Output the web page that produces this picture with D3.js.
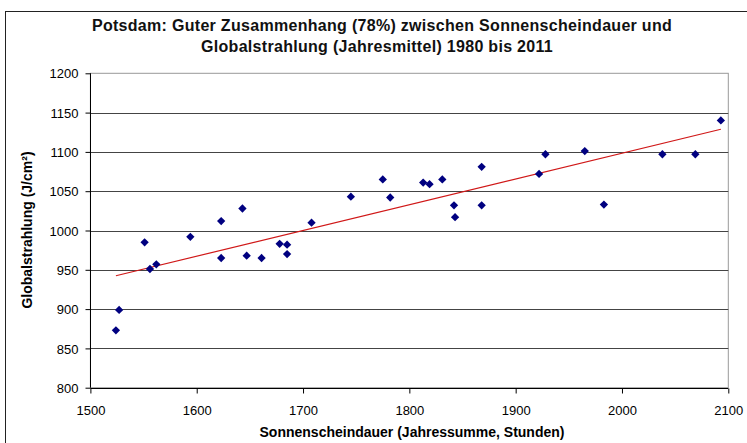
<!DOCTYPE html>
<html>
<head>
<meta charset="utf-8">
<script src="https://cdn.jsdelivr.net/npm/d3@7"></script>
<style>
  body { margin: 0; background: #fff; }
  text { font-family: Arial, "Liberation Sans", sans-serif; }
</style>
</head>
<body>
<script>
// Sonnenscheindauer (h) und Globalstrahlung (J/cm²), Potsdam 1980–2011
const sunshine = [1524, 1527, 1551, 1556, 1562, 1594, 1623, 1623, 1643, 1647, 1661, 1678,
  1685, 1685, 1708, 1745, 1775, 1782, 1813, 1819, 1831, 1842, 1843, 1868, 1868,
  1922, 1928, 1965, 1983, 2038, 2069, 2093];
const radiation = [873, 899, 985, 951, 957, 992, 1012, 965, 1028, 968, 965, 983,
  982, 970, 1010, 1043, 1065, 1042, 1061, 1059, 1065, 1032, 1017, 1081, 1032,
  1072, 1097, 1101, 1033, 1097, 1097, 1140];
const xTicks = [1500, 1600, 1700, 1800, 1900, 2000, 2100];
const yTicks = [800, 850, 900, 950, 1000, 1050, 1100, 1150, 1200];

const data = sunshine.map((s, i) => ({ x: s, y: radiation[i] }));

const width = 747;
const height = 443;
const margin = { top: 73.3, right: 18.7, bottom: 55.3, left: 90.4 };

const svg = d3.select('body')
  .append('svg')
    .attr('width', width)
    .attr('height', height);

// outer chart frame
svg.append('rect')
  .attr('x', 5.5)
  .attr('y', 11.5)
  .attr('width', width + 10)
  .attr('height', height + 10)
  .attr('fill', 'none')
  .attr('stroke', '#222')
  .attr('stroke-width', 1);

const xScale = d3.scaleLinear()
  .domain([1500, 2100])
  .range([margin.left, width - margin.right]);
const yScale = d3.scaleLinear()
  .domain([800, 1200])
  .range([height - margin.bottom, margin.top]);

// plot area border
svg.append('rect')
  .attr('x', xScale(1500))
  .attr('y', yScale(1200))
  .attr('width', xScale(2100) - xScale(1500))
  .attr('height', yScale(800) - yScale(1200))
  .attr('fill', 'none')
  .attr('stroke', '#999');

// gridlines
svg.append('g')
  .selectAll('line')
  .data(yTicks.filter(t => t > 800 && t < 1200))
  .enter()
  .append('line')
    .attr('x1', xScale(1500))
    .attr('x2', xScale(2100))
    .attr('y1', d => Math.round(yScale(d)) + 0.5)
    .attr('y2', d => Math.round(yScale(d)) + 0.5)
    .attr('stroke', '#444')
    .attr('stroke-width', 1.2);

// axes
const xAxis = svg.append('g')
  .attr('transform', `translate(0,${Math.round(yScale(800)) + 0.5})`)
  .call(d3.axisBottom(xScale).tickValues(xTicks).tickFormat(d3.format('d'))
    .tickSize(5).tickPadding(12));
const yAxis = svg.append('g')
  .attr('transform', `translate(${Math.round(xScale(1500)) + 0.5},0)`)
  .call(d3.axisLeft(yScale).tickValues(yTicks).tickFormat(d3.format('d'))
    .tickSize(5).tickPadding(7));

[xAxis, yAxis].forEach(ax => {
  ax.select('.domain').remove();
  ax.selectAll('.tick line').attr('stroke', '#000');
  ax.selectAll('.tick text')
    .attr('font-family', 'Arial, "Liberation Sans", sans-serif')
    .attr('font-size', 13)
    .attr('fill', '#000');
});
yAxis.selectAll('.tick text').attr('dy', '0.36em');

svg.append('line')
  .attr('x1', Math.round(xScale(1500)) + 0.5)
  .attr('x2', Math.round(xScale(1500)) + 0.5)
  .attr('y1', yScale(1200))
  .attr('y2', yScale(800))
  .attr('stroke', '#000');
svg.append('line')
  .attr('x1', xScale(1500))
  .attr('x2', xScale(2100))
  .attr('y1', Math.round(yScale(800)) + 0.5)
  .attr('y2', Math.round(yScale(800)) + 0.5)
  .attr('stroke', '#000');

// linear trend line (least squares)
const mx = d3.mean(data, d => d.x);
const my = d3.mean(data, d => d.y);
const slope = d3.sum(data, d => (d.x - mx) * (d.y - my)) / d3.sum(data, d => (d.x - mx) ** 2);
const icpt = my - slope * mx;
const xExtent = d3.extent(data, d => d.x);
svg.append('line')
  .attr('x1', xScale(xExtent[0]))
  .attr('y1', yScale(icpt + slope * xExtent[0]))
  .attr('x2', xScale(xExtent[1]))
  .attr('y2', yScale(icpt + slope * xExtent[1]))
  .attr('stroke', '#d01818')
  .attr('stroke-width', 1.2);

// points
svg.append('g')
  .selectAll('path')
  .data(data)
  .enter()
  .append('path')
    .attr('d', d3.symbol(d3.symbolDiamond2, 44))
    .attr('transform', d => `translate(${xScale(d.x)},${yScale(d.y)})`)
    .attr('fill', '#000080');

// title
const title = svg.append('text')
  .attr('text-anchor', 'middle')
  .attr('font-weight', 'bold')
  .attr('font-size', 16)
  .attr('letter-spacing', 0.3)
  .attr('fill', '#111');
title.append('tspan').attr('x', 382).attr('y', 31)
  .text('Potsdam: Guter Zusammenhang (78%) zwischen Sonnenscheindauer und');
title.append('tspan').attr('x', 377).attr('y', 52)
  .text('Globalstrahlung (Jahresmittel) 1980 bis 2011');

// axis titles
svg.append('text')
  .attr('x', 412)
  .attr('y', 437)
  .attr('text-anchor', 'middle')
  .attr('font-weight', 'bold')
  .attr('font-size', 14)
  .text('Sonnenscheindauer (Jahressumme, Stunden)');

svg.append('text')
  .attr('transform', 'translate(32,230) rotate(-90)')
  .attr('text-anchor', 'middle')
  .attr('font-weight', 'bold')
  .attr('font-size', 14)
  .text('Globalstrahlung (J/cm²)');
</script>
</body>
</html>
